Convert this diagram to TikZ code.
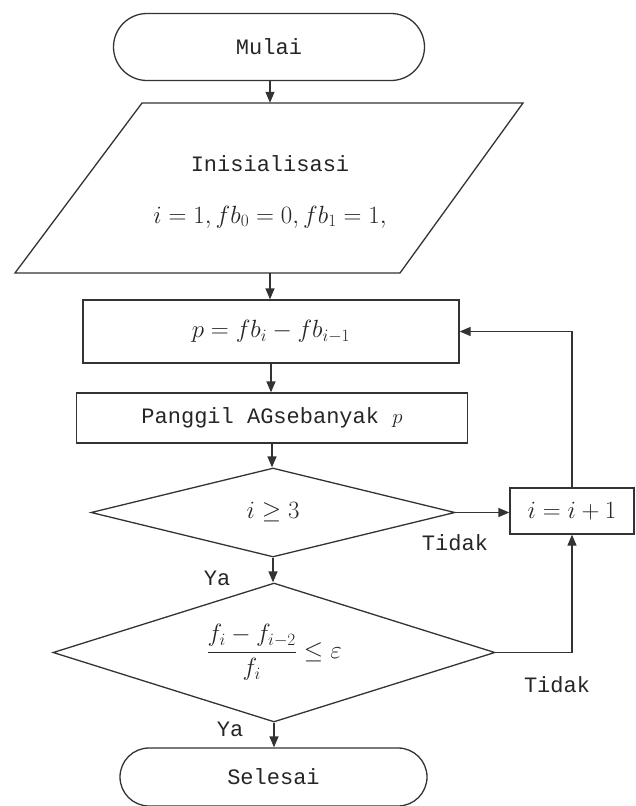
\documentclass[tikz,border=0pt]{standalone}
\usepackage{fontspec}
\setmonofont{Liberation Mono}
\usetikzlibrary{shapes.geometric,shapes.misc,arrows.meta}
\begin{document}
\begin{tikzpicture}[x=1pt,y=-1pt,
  every node/.style={font=\fontsize{22}{26}\selectfont\ttfamily, text=black!85},
  line/.style={line width=1.3pt, draw=black!80},
  arr/.style={line, -{Triangle[length=11pt,width=9pt]}},
  term/.style={rounded rectangle, draw=black!80, line width=1.3pt, inner sep=0pt},
  proc/.style={rectangle, draw=black!80, line width=1.3pt, inner sep=0pt},
  dec/.style={diamond, draw=black!80, line width=1.3pt, inner sep=0pt},
  lbl/.style={font=\fontsize{22}{26}\selectfont\ttfamily},
  mathtxt/.style={font=\fontsize{26}{30}\selectfont}
]
\fill[white] (0,0) rectangle (636,806);
\useasboundingbox (0,0) rectangle (636,806);

% nodes
\node[term, minimum width=311pt, minimum height=67pt] (mulai) at (269,47) {Mulai};
\node[minimum width=250pt, minimum height=170pt, inner sep=0pt] (init) at (270,188) {};
\draw[line] (142,103) -- (523,103) -- (400,273) -- (15,273) -- cycle;
\node (initA) at (270,164) {Inisialisasi};
\node[mathtxt] (initB) at (270,217) {$i = 1, fb_0 = 0, fb_1 = 1,$};
\node[proc, minimum width=376pt, minimum height=63pt, mathtxt] (box1) at (271,331.5) {$p = fb_i - fb_{i-1}$};
\node[proc, minimum width=391pt, minimum height=50pt] (box2) at (272,418) {Panggil AGsebanyak $p$};
\node[dec, minimum width=364pt, minimum height=89pt] (d1) at (273,512.5) {};
\node[mathtxt] (d1txt) at (d1.center) {$i \geq 3$};
\node[proc, minimum width=124pt, minimum height=46pt, mathtxt] (inc) at (572,511) {$i = i + 1$};
\node[dec, minimum width=442pt, minimum height=139pt] (d2) at (274,652.5) {};
\node[mathtxt] (d2txt) at (d2.center) {$\displaystyle\frac{f_i - f_{i-2}}{f_i} \leq \varepsilon$};
\node[term, minimum width=307pt, minimum height=58pt] (selesai) at (273.5,777) {Selesai};

% labels
\node[lbl] (ya1) at (217,578) {Ya};
\node[lbl] (tidak1) at (455,543) {Tidak};
\node[lbl] (tidak2) at (557,685) {Tidak};
\node[lbl] (ya2) at (230,729) {Ya};

% connectors
\draw[arr] (mulai.south -| init.north) -- (init.north);
\draw[arr] (init.south) -- (init.south |- box1.north);
\draw[arr] (box1.south) -- (box1.south |- box2.north);
\draw[arr] (box2.south) -- (box2.south |- d1.north);
\draw[arr] (d1.south) -- (d1.south |- d2.north);
\draw[arr] (d1.east) -- (inc.west |- d1.east);
\draw[arr] (d2.east) -- (inc.south |- d2.east) -- (inc.south);
\draw[arr] (inc.north) -- (inc.north |- box1.east) -- (box1.east);
\draw[arr] (d2.south) -- (d2.south |- selesai.north);
\end{tikzpicture}
\end{document}
